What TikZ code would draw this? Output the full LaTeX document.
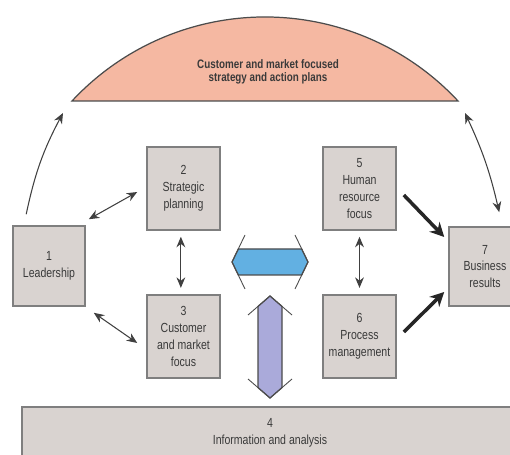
\documentclass[tikz,border=0pt]{standalone}
\usepackage{fontspec}
\newfontfamily\boxfont{Liberation Sans}[FakeStretch=0.8]
\usetikzlibrary{arrows.meta}
\definecolor{boxfill}{HTML}{D9D3D0}
\definecolor{boxline}{HTML}{7F7F7F}
\definecolor{domefill}{HTML}{F5B8A2}
\definecolor{txt}{HTML}{3A3A3A}
\definecolor{bluefill}{HTML}{62B0E2}
\definecolor{lavfill}{HTML}{AAAADA}
\tikzset{
  box/.style = {draw=boxline, line width=0.9pt, fill=boxfill, text=txt, align=center,
    font=\boxfont\fontsize{7.5}{9.6}\selectfont, inner sep=1pt},
  link/.style = {draw=black!75, line width=0.6pt, arrows={Stealth[length=6pt,width=5pt]}-{Stealth[length=6pt,width=5pt]}},
  push/.style = {draw=black!85, line width=2pt, -{Stealth[length=8pt,width=8pt]}}
}
\begin{document}
\begin{tikzpicture}[x=0.02cm,y=-0.02cm]
  \clip (0,0) rectangle (510,455);
  \fill[white] (0,0) rectangle (510,455);

  % dome
  \coordinate (dome w) at (72,101);
  \coordinate (dome e) at (458,101);
  \draw[draw=black!70, line width=0.7pt, fill=domefill]
    (dome w) arc[start angle=-137.05, end angle=-42.95, radius=263.7] -- cycle;
  \node[text=txt, align=center, font=\boxfont\bfseries\fontsize{7}{7.2}\selectfont] (plan) at (268,72)
    {Customer and market focused\\strategy and action plans};

  % boxes
  \node[box, minimum width=1.44cm, minimum height=1.6cm] (lead) at (49,266) {1\\Leadership};
  \node[box, minimum width=1.46cm, minimum height=1.66cm] (strat) at (183.5,188.5) {2\\Strategic\\planning};
  \node[box, minimum width=1.46cm, minimum height=1.66cm] (cust) at (183.5,336.5) {3\\Customer\\and market\\focus};
  \node[box, minimum width=1.46cm, minimum height=1.66cm] (hr) at (359.5,188.5) {5\\Human\\resource\\focus};
  \node[box, minimum width=1.46cm, minimum height=1.66cm] (proc) at (359.5,336.5) {6\\Process\\management};
  \node[box, minimum width=1.44cm, minimum height=1.58cm] (res) at (485,266.5) {7\\Business\\results};
  \node[box, minimum width=9.92cm, minimum height=1.04cm] (info) at (270,433) {4\\Information and analysis};

  % thin links
  \draw[link, arrows=-{Stealth[length=6pt,width=5pt]}] ([shift={(14,-11)}]lead.north west) to[bend left=8] ([shift={(-9,12)}]dome w);
  \draw[link] ([shift={(7,12)}]dome e) to[bend left=6] ([shift={(51,-14)}]res.north west);
  \draw[link] ([shift={(3,-6)}]lead.north east) -- ([shift={(-9,3.5)}]strat.west);
  \draw[link] ([shift={(8,6)}]lead.south east) -- ([shift={(-9,6.5)}]cust.west);
  \draw[link, shorten <=3.4pt, shorten >=3.6pt] ([xshift=-1.5]strat.south) -- ([xshift=-1.5]cust.north);
  \draw[link, shorten <=3.4pt, shorten >=3.6pt] (hr.south) -- (proc.north);

  % thick links
  \draw[push] ([shift={(7,6.5)}]hr.east) -- ([shift={(-4,-29.5)}]res.west);
  \draw[push] ([shift={(7,-4.5)}]proc.east) -- ([shift={(-4,25.5)}]res.west);

  % wide arrows
  \draw[draw=black!70, line width=0.7pt, fill=bluefill]
    (238.3,249) -- (232,262) -- (238.3,275) -- (301.7,275) -- (308,262) -- (301.7,249) -- cycle;
  \draw[draw=black!70, line width=0.5pt] (245,235) -- (232,262) -- (245,289);
  \draw[draw=black!70, line width=0.5pt] (295,235) -- (308,262) -- (295,289);

  \draw[draw=black!70, line width=0.7pt, fill=lavfill]
    (258,306.4) -- (270,296) -- (282,306.4) -- (282,387.6) -- (270,398) -- (258,387.6) -- cycle;
  \draw[draw=black!70, line width=0.5pt] (248,315) -- (270,296) -- (292,315);
  \draw[draw=black!70, line width=0.5pt] (248,379) -- (270,398) -- (292,379);
\end{tikzpicture}
\end{document}
